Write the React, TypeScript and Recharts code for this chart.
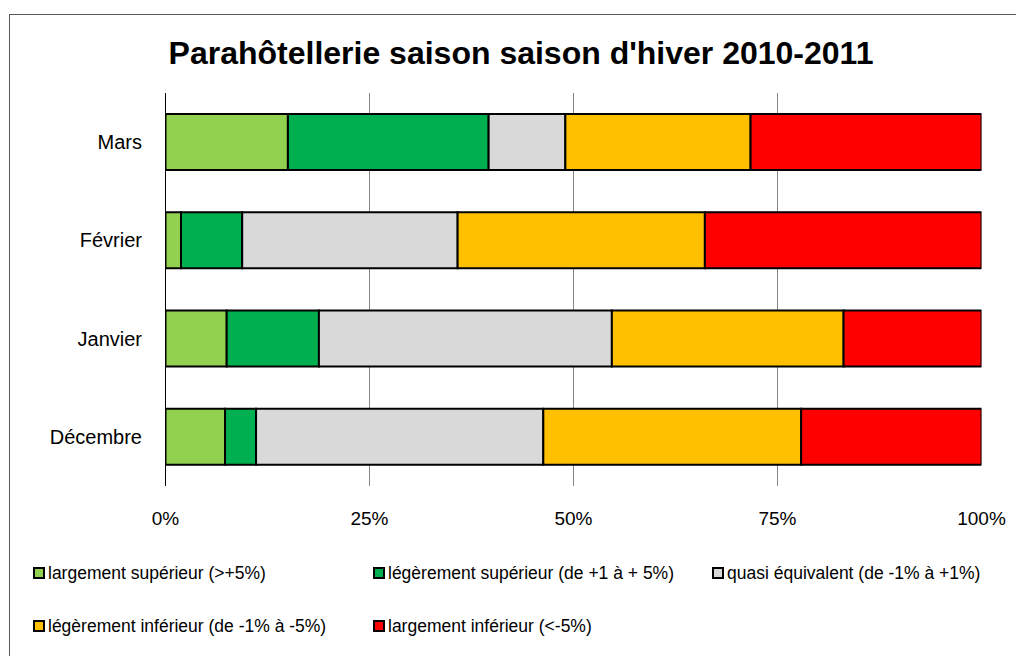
import { BarChart, Bar, XAxis, YAxis, CartesianGrid } from 'recharts';

// saison d'hiver 2010-2011, parts en % par mois
const months = ['Mars', 'Février', 'Janvier', 'Décembre'];
const largementSup = [15.0, 1.9, 7.5, 7.3];
const legerementSup = [24.6, 7.5, 11.3, 3.8];
const quasiEquivalent = [9.4, 26.4, 35.9, 35.2];
const legerementInf = [22.7, 30.3, 28.4, 31.6];
const largementInf = [28.3, 33.9, 16.9, 22.1];

const xTicks = [0, 25, 50, 75, 100];
const gridValues = [25, 50, 75];

const series = [
  { key: 'largSup', name: 'largement supérieur (>+5%)', color: '#92D050', values: largementSup },
  { key: 'legSup', name: 'légèrement supérieur (de +1 à + 5%)', color: '#00B050', values: legerementSup },
  { key: 'quasi', name: 'quasi équivalent (de -1% à +1%)', color: '#D9D9D9', values: quasiEquivalent },
  { key: 'legInf', name: 'légèrement inférieur (de -1% à -5%)', color: '#FFC000', values: legerementInf },
  { key: 'largInf', name: 'largement inférieur (<-5%)', color: '#FF0000', values: largementInf },
];

const chartData = months.map((month, i) => {
  const row: Record<string, string | number> = { month };
  series.forEach(s => { row[s.key] = s.values[i]; });
  return row;
});

const font = '"Liberation Sans", Arial, sans-serif';

// positions des entrées de légende (colonne, ligne)
const legendSlots = [
  { left: 33, top: 566 },
  { left: 373, top: 566 },
  { left: 712, top: 566 },
  { left: 33, top: 619 },
  { left: 373, top: 619 },
];

export default function App() {
  return (
    <div style={{ position: 'fixed', left: 0, top: 0, width: 1016, height: 656, overflow: 'hidden', background: '#fff', fontFamily: font }}>
      <div style={{ position: 'absolute', left: 9, top: 14, width: 1100, height: 800, border: '1px solid #595959' }} />
      <div style={{ position: 'absolute', left: 0, top: 33, width: 1042, textAlign: 'center', fontWeight: 'bold', fontSize: 32, lineHeight: '40px', color: '#000', whiteSpace: 'nowrap' }}>
        Parahôtellerie saison saison d'hiver 2010-2011
      </div>
      <BarChart
        width={1016}
        height={656}
        data={chartData}
        layout="vertical"
        margin={{ top: 93, right: 34.5, bottom: 130, left: 0 }}
        barSize={56}
        style={{ position: 'absolute', left: 0, top: 0 }}
      >
        <CartesianGrid horizontal={false} verticalValues={gridValues} stroke="#868686" />
        <XAxis
          type="number"
          domain={[0, 100]}
          ticks={xTicks}
          allowDataOverflow
          tickFormatter={v => `${v}%`}
          axisLine={false}
          tickLine={false}
          tickSize={0}
          tickMargin={26}
          height={40}
          tick={{ fill: '#000', fontSize: 19, fontFamily: font }}
          interval={0}
        />
        <YAxis
          type="category"
          dataKey="month"
          width={165.5}
          axisLine={{ stroke: '#000', strokeWidth: 1 }}
          tickLine={false}
          tickSize={0}
          tickMargin={23.5}
          tick={{ fill: '#000', fontSize: 20, fontFamily: font }}
        />
        {series.map(s => (
          <Bar
            key={s.key}
            dataKey={s.key}
            name={s.name}
            stackId="a"
            fill={s.color}
            stroke="#000"
            strokeWidth={2}
            isAnimationActive={false}
          />
        ))}
      </BarChart>
      {series.map((s, i) => (
        <div key={s.key} style={{ position: 'absolute', left: legendSlots[i].left, top: legendSlots[i].top, display: 'flex', alignItems: 'center', fontSize: 17.5, lineHeight: '14px', color: '#000', whiteSpace: 'nowrap' }}>
          <span style={{ display: 'inline-block', width: 8, height: 8, background: s.color, border: '2px solid #000', marginRight: 3 }} />
          {s.name}
        </div>
      ))}
    </div>
  );
}
